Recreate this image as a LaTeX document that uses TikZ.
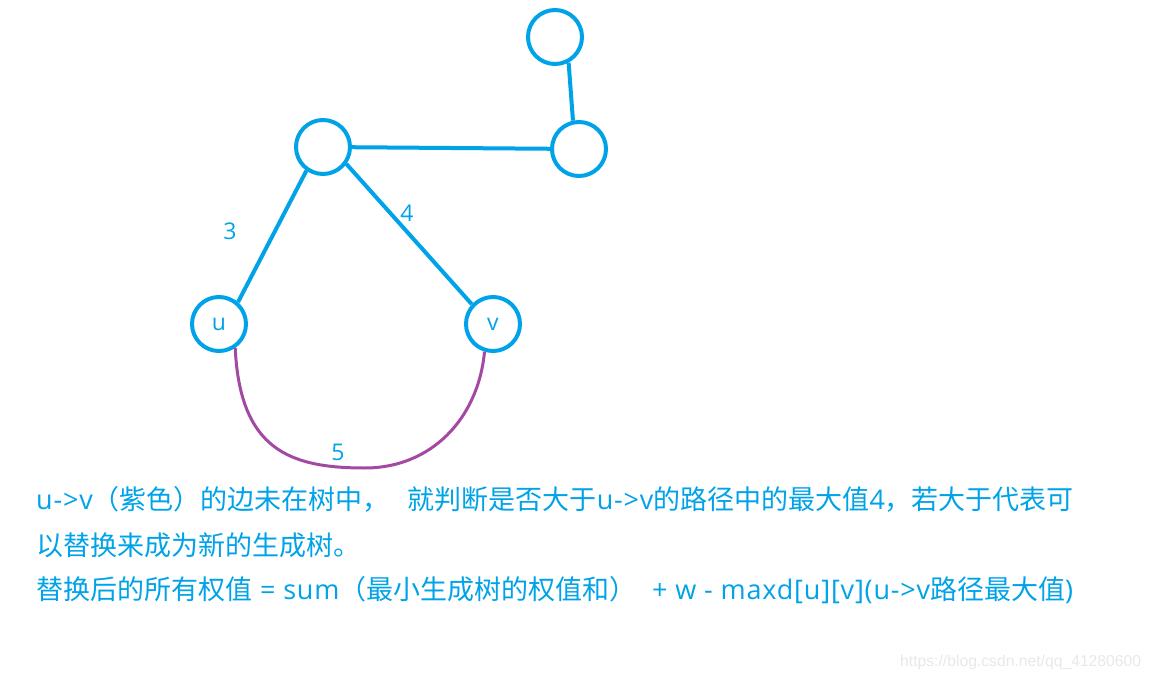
\documentclass[tikz,border=0pt]{standalone}
\usepackage{fontspec}
\setmainfont{Noto Sans CJK SC}
\newfontfamily\latfont[LetterSpace=3]{Open Sans}
\newfontfamily\lblfont{Open Sans}
\newfontfamily\wmfont{Liberation Sans}
\newcommand{\lt}[1]{{\latfont #1}}
\definecolor{pblue}{HTML}{00A2E8}
\definecolor{ppurple}{HTML}{A349A4}
\definecolor{wmgray}{HTML}{E8E8E8}
\tikzset{
  vert/.style={circle, draw=pblue, line width=4pt, minimum size=54pt, inner sep=0pt, text=pblue, font=\lblfont\fontsize{23}{28}\selectfont},
  tedge/.style={draw=pblue, line width=4pt},
  xedge/.style={draw=ppurple, line width=3pt},
  wlabel/.style={text=pblue, font=\lblfont\fontsize{23}{28}\selectfont, inner sep=0pt},
  body/.style={text=pblue, font=\fontsize{27}{30}\selectfont, inner sep=0pt, anchor=base west},
}
\begin{document}
\begin{tikzpicture}[x=1pt,y=-1pt]
\useasboundingbox (0,0) rectangle (1152,679);
\node[vert] (t) at (555,37) {};
\node[vert] (r) at (579,149) {};
\node[vert] (a) at (323,147) {};
\node[vert] (u) at (219,324) {u};
\node[vert] (v) at (493,324) {v};
\path[tedge] (a) -- (r);
\path[tedge] (t.-62) -- (r.102);
\path[tedge] (a.-125) -- (u.49);
\path[tedge] (a.-36) -- (v.137);
\coordinate (bot) at (365,468);
\path[xedge] (u.-56) .. controls (240,450) and (290,468) .. (bot)
  .. controls (430,468) and (478,420) .. (v.-107);
\node[wlabel] (l3) at (230,231) {3};
\node[wlabel] (l4) at (407,213) {4};
\node[wlabel] (l5) at (338,452) {5};
\node[body] (line1) at (36,509) {\lt{u{-}>v}（紫色）的边未在树中，\hspace{18pt}就判断是否大于\lt{u{-}>v}的路径中的最大值\lt{4}，若大于代表可};
\node[body] (line2) at (36,555) {以替换来成为新的生成树。};
\node[body] (line3) at (36,599) {替换后的所有权值\lt{ = sum}（最小生成树的权值和）\lt{\ \ + w - maxd[u][v](u{-}>v}路径最大值\lt{)}};
\node[text=wmgray, font=\wmfont\fontsize{15.7}{18}\selectfont, inner sep=0pt, anchor=base west] (wm) at (900,666) {https://blog.csdn.net/qq\_41280600};
\end{tikzpicture}
\end{document}
